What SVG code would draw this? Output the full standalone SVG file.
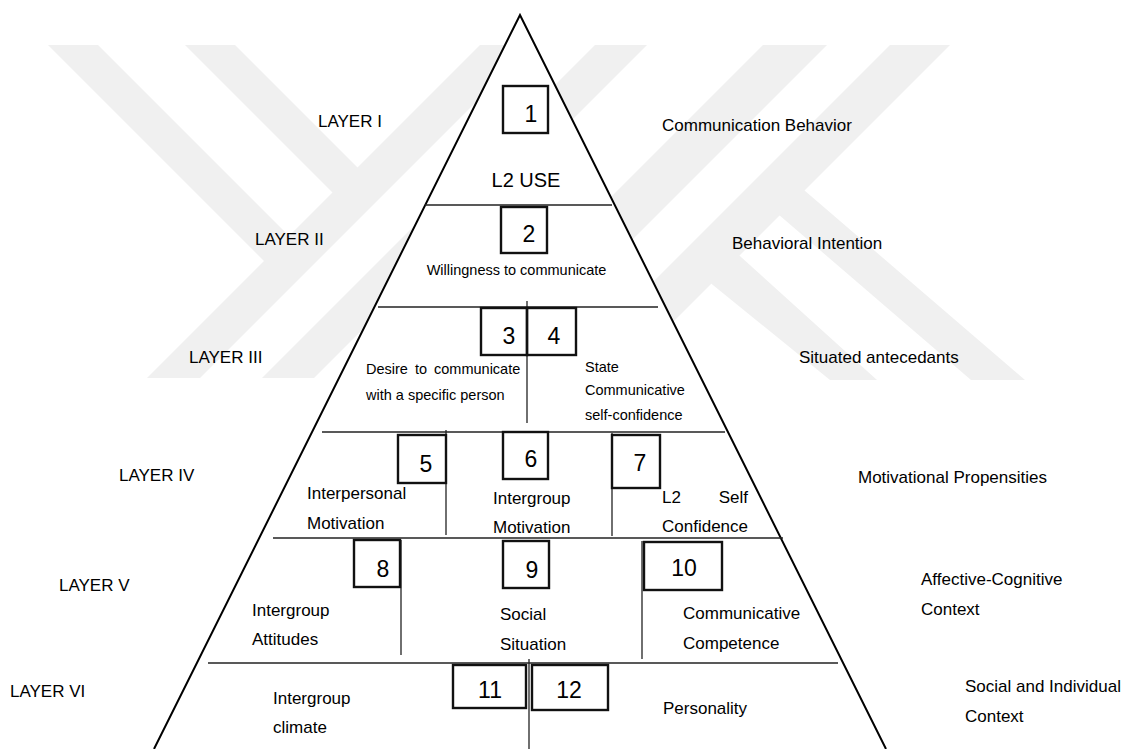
<svg xmlns="http://www.w3.org/2000/svg" width="1125" height="749" viewBox="0 0 1125 749">
<style>
text{font-family:"Liberation Sans",Arial,sans-serif;fill:#000}
.lab{font-size:17px}
.sm{font-size:14.5px}
.num{font-size:23px;text-anchor:middle}
.box{fill:none;stroke:#111;stroke-width:2.4}
.ln{stroke:#222;stroke-width:1.3;fill:none}
.wm{fill:#f0f0f0}
</style>
<rect width="1125" height="749" fill="#fff"/>
<g id="watermark">
<polygon class="wm" points="480,45 533,45 200,378 147,378"/>
<polygon class="wm" points="48,45 98,45 302,249 277,274"/>
<polygon class="wm" points="185,45 235,45 370.5,180.5 345.5,205.5"/>
<polygon class="wm" points="595,45 647,45 314,378 262,378"/>
<polygon class="wm" points="763,45 827,45 494,378 430,378"/>
<polygon class="wm" points="890,45 950,45 617,378 557,378"/>
<polygon class="wm" points="790,178 1025,380 971,380 764,202"/>
<polygon class="wm" points="720,238 877,380 830,380 692,268"/>
</g>
<g id="pyramid">
<polygon points="520,15 150,760 890,760" fill="#fff"/>
<polyline points="154,749 520,15 886,749" fill="none" stroke="#000" stroke-width="2"/>
</g>
<g id="connectors">
<line class="ln" x1="425" y1="205" x2="612" y2="205"/>
<line class="ln" x1="378" y1="307" x2="658" y2="307"/>
<line class="ln" x1="527" y1="301" x2="527" y2="423"/>
<line class="ln" x1="322" y1="432" x2="725" y2="432"/>
<line class="ln" x1="446" y1="430" x2="446" y2="535"/>
<line class="ln" x1="612" y1="433" x2="612" y2="536"/>
<line class="ln" x1="273" y1="538" x2="783" y2="538"/>
<line class="ln" x1="401" y1="540" x2="401" y2="655"/>
<line class="ln" x1="642" y1="541" x2="642" y2="659"/>
<line class="ln" x1="208" y1="663" x2="838" y2="663"/>
<line class="ln" x1="529" y1="659" x2="529" y2="749"/>
</g>
<g id="layers">
<text class="lab" x="318" y="127">LAYER I</text>
<text class="lab" x="255" y="245">LAYER II</text>
<text class="lab" x="189" y="363">LAYER III</text>
<text class="lab" x="119" y="481">LAYER IV</text>
<text class="lab" x="59" y="591">LAYER V</text>
<text class="lab" x="10" y="697">LAYER VI</text>
</g>
<g id="levels">
<text class="lab" x="662" y="131">Communication Behavior</text>
<text class="lab" x="732" y="249">Behavioral Intention</text>
<text class="lab" x="799" y="363">Situated antecedants</text>
<text class="lab" x="858" y="483">Motivational Propensities</text>
<text class="lab" x="921" y="585">Affective-Cognitive</text>
<text class="lab" x="921" y="615">Context</text>
<text class="lab" x="965" y="692">Social and Individual</text>
<text class="lab" x="965" y="722">Context</text>
</g>
<g id="node-1">
<rect class="box" x="503" y="86" width="45" height="47"/>
<text class="num" x="531" y="122">1</text>
<text x="526" y="187" font-size="20" text-anchor="middle">L2 USE</text>
</g>
<g id="node-2">
<rect class="box" x="501" y="207" width="46" height="46"/>
<text class="num" x="529" y="242">2</text>
<text class="sm" x="516.5" y="275" text-anchor="middle">Willingness to communicate</text>
</g>
<g id="node-3">
<rect class="box" x="481" y="308" width="46" height="47"/>
<text class="num" x="509" y="344">3</text>
<text class="sm" x="366" y="374" word-spacing="3">Desire to communicate</text>
<text class="sm" x="366" y="400">with a specific person</text>
</g>
<g id="node-4">
<rect class="box" x="527" y="308" width="49" height="47"/>
<text class="num" x="554" y="344">4</text>
<text class="sm" x="585" y="372">State</text>
<text class="sm" x="585" y="395">Communicative</text>
<text class="sm" x="585" y="420">self-confidence</text>
</g>
<g id="node-5">
<rect class="box" x="398" y="435" width="48" height="48"/>
<text class="num" x="426" y="472">5</text>
<text class="lab" x="307" y="499">Interpersonal</text>
<text class="lab" x="307" y="529">Motivation</text>
</g>
<g id="node-6">
<rect class="box" x="503" y="432" width="45" height="47"/>
<text class="num" x="531" y="467">6</text>
<text class="lab" x="493" y="504">Intergroup</text>
<text class="lab" x="493" y="533">Motivation</text>
</g>
<g id="node-7">
<rect class="box" x="612" y="435" width="48" height="53"/>
<text class="num" x="640" y="471">7</text>
<text class="lab" x="662" y="503">L2</text>
<text class="lab" x="748" y="503" text-anchor="end">Self</text>
<text class="lab" x="662" y="532">Confidence</text>
</g>
<g id="node-8">
<rect class="box" x="354" y="540" width="46" height="47"/>
<text class="num" x="383" y="577">8</text>
<text class="lab" x="252" y="616">Intergroup</text>
<text class="lab" x="252" y="645">Attitudes</text>
</g>
<g id="node-9">
<rect class="box" x="503" y="541" width="46" height="47"/>
<text class="num" x="532" y="578">9</text>
<text class="lab" x="500" y="620">Social</text>
<text class="lab" x="500" y="650">Situation</text>
</g>
<g id="node-10">
<rect class="box" x="644" y="542" width="78" height="48"/>
<text class="num" x="684" y="576">10</text>
<text class="lab" x="683" y="619">Communicative</text>
<text class="lab" x="683" y="649">Competence</text>
</g>
<g id="node-11">
<rect class="box" x="453" y="665" width="73" height="43"/>
<text class="num" x="490" y="698">11</text>
<text class="lab" x="273" y="704">Intergroup</text>
<text class="lab" x="273" y="733">climate</text>
</g>
<g id="node-12">
<rect class="box" x="532" y="665" width="76" height="45"/>
<text class="num" x="569" y="698">12</text>
<text class="lab" x="663" y="714">Personality</text>
</g>
</svg>
